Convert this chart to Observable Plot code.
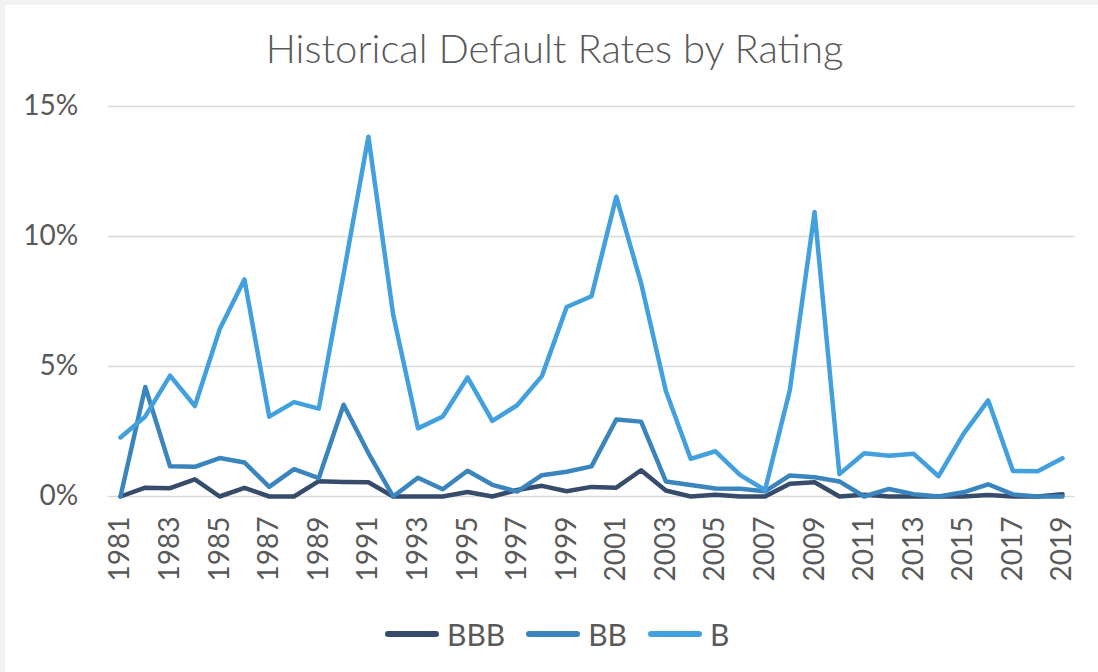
<!DOCTYPE html>
<html>
<head>
<meta charset="utf-8">
<script src="https://cdn.jsdelivr.net/npm/d3@7"></script>
<script src="https://cdn.jsdelivr.net/npm/@observablehq/plot@0.6"></script>
<style>
  html, body { margin: 0; padding: 0; background: #f2f2f2; width: 1098px; height: 672px; overflow: hidden; }
  #card { position: absolute; left: 5px; top: 5px; width: 1093px; height: 667px; background: #ffffff; }
  #title { position: absolute; left: 8px; top: 28px; width: 1093px; text-align: center;
           font-family: Lato, "Open Sans", sans-serif; font-weight: 300; font-size: 40px; color: #595959; line-height: 40px; }
  #chart { position: absolute; left: 0; top: 80px; }
  #legend { position: absolute; left: 385px; top: 616px; height: 36px; display: flex; align-items: center;
            font-family: Lato, "Open Sans", sans-serif; font-size: 30px; color: #595959; }
  .item { display: flex; align-items: center; margin-right: 21px; }
  .sw { width: 54px; height: 6px; border-radius: 3px; margin-right: 8px; }
</style>
</head>
<body>
<div id="card"></div>
<div id="title">Historical Default Rates by Rating</div>
<div id="chart"></div>
<div id="legend"></div>
<script>
const years = d3.range(1981, 2020);
const ratings = ["BBB", "BB", "B"];
const colors = ["#364c6a", "#3a85bd", "#42a0de"];
const bbb = [0, 0.34, 0.32, 0.66, 0, 0.33, 0, 0, 0.59, 0.56, 0.55, 0, 0, 0, 0.17, 0, 0.25, 0.41, 0.20, 0.37,
             0.34, 1.01, 0.23, 0, 0.07, 0, 0, 0.49, 0.55, 0, 0.07, 0, 0, 0, 0, 0.06, 0, 0, 0.09];
const bb  = [0, 4.21, 1.16, 1.14, 1.48, 1.31, 0.37, 1.05, 0.71, 3.53, 1.67, 0, 0.72, 0.28, 0.99, 0.45, 0.19, 0.82, 0.95, 1.16,
             2.96, 2.88, 0.58, 0.44, 0.31, 0.30, 0.20, 0.81, 0.74, 0.58, 0, 0.29, 0.09, 0, 0.16, 0.47, 0.08, 0, 0];
const b   = [2.27, 3.08, 4.65, 3.48, 6.43, 8.35, 3.07, 3.63, 3.38, 8.56, 13.84, 6.99, 2.62, 3.08, 4.58, 2.91, 3.51, 4.63, 7.29, 7.70,
             11.53, 8.21, 4.06, 1.45, 1.74, 0.82, 0.25, 4.09, 10.94, 0.86, 1.66, 1.57, 1.64, 0.78, 2.40, 3.70, 0.98, 0.97, 1.47];
const yTicks = [0, 5, 10, 15];
const xTicks = d3.range(1981, 2020, 2);

const series = { BBB: bbb, BB: bb, B: b };
const data = ratings.flatMap(r => years.map((yr, i) => ({ year: yr, value: series[r][i], rating: r })));

const chart = Plot.plot({
  width: 1098,
  height: 540,
  marginTop: 26,
  marginBottom: 124,
  marginLeft: 107.6,
  marginRight: 23.6,
  style: { background: "transparent", fontFamily: "Lato, 'Open Sans', sans-serif", color: "#595959" },
  x: { domain: [1980.5, 2019.5] },
  y: { domain: [0, 15] },
  color: { domain: ratings, range: colors },
  marks: [
    Plot.ruleY(yTicks, { stroke: "#d9d9d9", strokeWidth: 1.5 }),
    Plot.axisY({ ticks: yTicks, tickFormat: d => d + "%", tickSize: 0, tickPadding: 30, fontSize: 28, label: null, fill: "#595959" }),
    Plot.axisX({ ticks: xTicks, tickFormat: d => String(d), tickSize: 0, tickPadding: 20, tickRotate: -90, fontSize: 28, label: null, fill: "#595959" }),
    Plot.line(data, { x: "year", y: "value", z: "rating", stroke: "rating", strokeWidth: 4.5, strokeLinejoin: "round", strokeLinecap: "round" })
  ]
});
document.getElementById("chart").appendChild(chart);

const legend = document.getElementById("legend");
ratings.forEach((r, i) => {
  const it = document.createElement("div");
  it.className = "item";
  const sw = document.createElement("div");
  sw.className = "sw";
  sw.style.background = colors[i];
  const lb = document.createElement("span");
  lb.textContent = r;
  it.appendChild(sw);
  it.appendChild(lb);
  legend.appendChild(it);
});
</script>
</body>
</html>
